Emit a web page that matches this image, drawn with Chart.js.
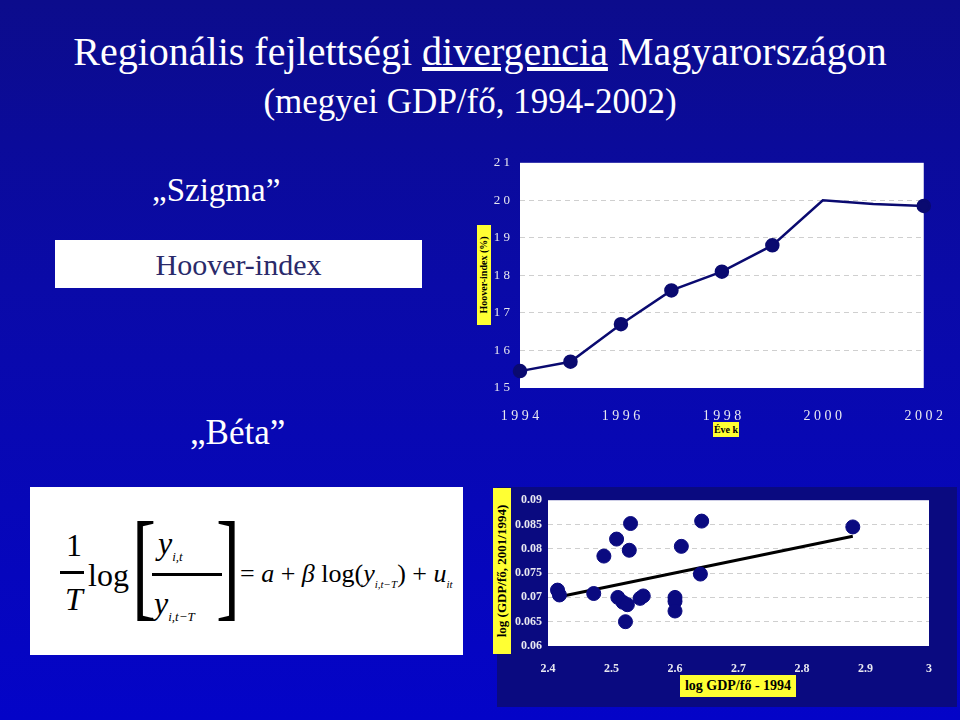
<!DOCTYPE html><html><head><meta charset="utf-8">
<script src="https://cdn.jsdelivr.net/npm/chart.js@4"></script>
<style>
body{margin:0;width:960px;height:720px;overflow:hidden;position:relative;font-family:"Liberation Serif","Times New Roman",serif;
background:linear-gradient(180deg,#0c0c8c 0%,#0a0aa8 40%,#0404c8 100%);}
.a{position:absolute;}
.ylab{background:#ffff33;color:#000;font-weight:bold;white-space:nowrap;transform:rotate(-90deg);transform-origin:center;}
.f{position:absolute;line-height:1;white-space:nowrap}
</style></head><body>
<div class="a" style="left:0;width:960px;top:28px;text-align:center;font-size:40px;color:#fff">Regionális fejlettségi <u>divergencia</u> Magyarországon</div>
<div class="a" style="left:0;width:940px;top:82px;text-align:center;font-size:35px;color:#fff">(megyei GDP/fő, 1994-2002)</div>
<div class="a" style="left:152px;top:172px;font-size:33px;color:#fff">„Szigma”</div>
<div class="a" style="left:55px;top:240px;width:367px;height:48px;background:#fff;color:#2a2a6a;font-size:30px;text-align:center;line-height:50px">Hoover-index</div>
<div class="a" style="left:190px;top:413px;font-size:35px;color:#fff">„Béta”</div>
<div class="a" style="left:30px;top:487px;width:433px;height:168px;background:#fff;color:#000;overflow:hidden">
 <div class="f" style="left:36px;top:42px;font-size:32px">1</div>
 <div class="f" style="left:30px;top:84px;width:24px;border-top:3px solid #000"></div>
 <div class="f" style="left:35px;top:96px;font-size:32px;font-style:italic">T</div>
 <div class="f" style="left:58px;top:72px;font-size:32px">log</div>
 <div class="f" style="left:102px;top:18px;font-size:120px;font-weight:100;transform:scaleX(0.6);transform-origin:left">[</div>
 <div class="f" style="left:128px;top:40px;font-size:32px;font-style:italic">y<sub style="font-size:13px">i,t</sub></div>
 <div class="f" style="left:122px;top:86px;width:70px;border-top:3px solid #000"></div>
 <div class="f" style="left:124px;top:100px;font-size:32px;font-style:italic">y<sub style="font-size:13px">i,t−T</sub></div>
 <div class="f" style="left:186px;top:18px;font-size:120px;font-weight:100;transform:scaleX(0.6);transform-origin:left">]</div>
 <div class="f" style="left:210px;top:74px;font-size:26px">= <i>a</i> + <i>β</i> log(<i>y</i><sub style="font-size:11px"><i>i,t−T</i></sub>) + <i>u</i><sub style="font-size:11px"><i>it</i></sub></div>
</div>
<div class="a ylab" style="left:434px;top:268px;width:100px;height:14px;font-size:10px;line-height:14px;text-align:center">Hoover-index (%)</div>
<div class="a" style="left:713px;top:422px;width:26px;height:15px;background:#ffff33;font-size:10px;font-weight:bold;text-align:center;line-height:15px">Éve k</div>
<canvas id="c1" class="a" style="left:470px;top:145px;width:485px;height:300px" width="485" height="300"></canvas>
<div class="a" style="left:497px;top:487px;width:460px;height:220px;background:#0a0a80"></div>
<div class="a ylab" style="left:419px;top:562px;width:166px;height:18px;font-size:13px;line-height:18px;text-align:center">log (GDP/fő, 2001/1994)</div>
<div class="a" style="left:680px;top:675px;width:116px;height:22px;background:#ffff33;font-size:14px;font-weight:bold;text-align:center;line-height:22px">log GDP/fő - 1994</div>
<div class="a" style="left:780px;top:598px;width:150px;text-align:center;font-size:13px;font-weight:bold;color:#000;line-height:19px">y = 0.0263x + 0.0068<br>R<sup style="font-size:8px">2</sup> = 0.1579</div>
<canvas id="c2" class="a" style="left:497px;top:487px;width:460px;height:200px" width="460" height="200"></canvas>
<script>
const years=[1994,1995,1996,1997,1998,1999,2000,2001,2002];
const hoover=[15.45,15.7,16.7,17.6,18.1,18.8,20.0,19.9,19.85];
const markerShown=[1,1,1,1,1,1,0,0,1];
const yTicks1=[15,16,17,18,19,20,21];
const xLabels1=[1994,1996,1998,2000,2002];
const gdp94=[2.415,2.418,2.472,2.488,2.508,2.51,2.518,2.525,2.522,2.528,2.53,2.545,2.55,2.6,2.6,2.6,2.61,2.64,2.642,2.88];
const growth=[0.0715,0.0705,0.0708,0.0785,0.082,0.0700,0.069,0.0685,0.065,0.0797,0.0852,0.0698,0.0703,0.0700,0.0692,0.0672,0.0805,0.0748,0.0857,0.0845];
const xTicks2=[2.4,2.5,2.6,2.7,2.8,2.9,3];
const yTicks2=[0.06,0.065,0.07,0.075,0.08,0.085,0.09];
const trendX=[2.42,2.88];
const trendY=[0.0702,0.0826];
const tickFont={family:"Liberation Serif",size:12};
const dashGrid={color:c=>(c.index===0||c.index===c.chart.scales.y.ticks.length-1)?'rgba(0,0,0,0)':'#cfcfcf',drawTicks:false};
const bg={id:'bg',beforeDraw(c){const a=c.chartArea,x=c.ctx;x.fillStyle='#fff';x.fillRect(a.left,a.top,a.right-a.left,a.bottom-a.top);}};
new Chart(document.getElementById('c1'),{type:'line',
 data:{datasets:[{data:years.map((x,i)=>({x,y:hoover[i]})),borderColor:'#0a0a70',backgroundColor:'#0a0a70',borderWidth:2.5,
  pointRadius:markerShown.map(m=>m?6:0),pointHoverRadius:0,tension:0,clip:false}]},
 plugins:[bg],
 options:{responsive:false,animation:false,events:[],layout:{padding:{top:12,right:0}},plugins:{legend:{display:false},tooltip:{enabled:false}},
 scales:{x:{type:'linear',min:1994,max:2002,afterBuildTicks(s){s.ticks=xLabels1.map(v=>({value:v}));},afterFit(s){s.height=57;},
   ticks:{color:'#e8e8f0',font:{...tickFont,size:14},padding:12,callback:v=>String(v).split('').join(' ')},grid:{display:false},border:{display:false}},
  y:{min:15,max:21,afterBuildTicks(s){s.ticks=yTicks1.map(v=>({value:v}));},afterFit(s){s.width=50;},
   ticks:{color:'#e8e8f0',font:{...tickFont,size:13},padding:10,callback:v=>String(v).split('').join(' ')},grid:dashGrid,border:{display:false,dash:[5,4]}}}}});
new Chart(document.getElementById('c2'),{type:'scatter',
 data:{datasets:[{data:gdp94.map((x,i)=>({x,y:growth[i]})),backgroundColor:'#0a0a80',borderColor:'#0a0a80',pointRadius:7,pointHoverRadius:7},
  {type:'line',data:trendX.map((x,i)=>({x,y:trendY[i]})),borderColor:'#000',borderWidth:3,pointRadius:0}]},
 plugins:[bg],
 options:{responsive:false,animation:false,events:[],layout:{padding:{top:8,right:28}},plugins:{legend:{display:false},tooltip:{enabled:false}},
 scales:{x:{type:'linear',min:2.4,max:3,afterBuildTicks(s){s.ticks=xTicks2.map(v=>({value:v}));},afterFit(s){s.height=41;},
   ticks:{color:'#e8e8f0',font:{...tickFont,weight:'bold'},padding:8,callback:v=>String(+v.toFixed(1))},grid:{display:false},border:{display:false}},
  y:{min:0.06,max:0.09,afterBuildTicks(s){s.ticks=yTicks2.map(v=>({value:v}));},afterFit(s){s.width=51;},
   ticks:{color:'#e8e8f0',font:{...tickFont,weight:'bold'},padding:6,callback:v=>String(+v.toFixed(3))},grid:dashGrid,border:{display:false,dash:[5,4]}}}}});
</script></body></html>
